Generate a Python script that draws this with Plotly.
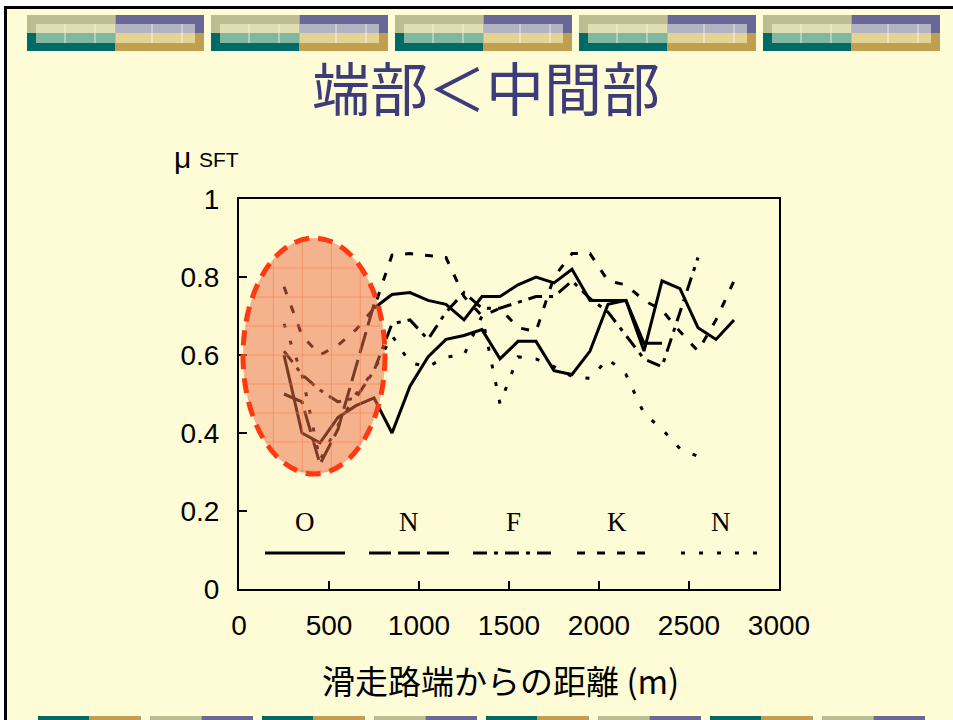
import math
import plotly.graph_objects as go

# ---------------- data ----------------
dist_O1 = [250, 350, 450, 550, 650, 750, 850, 950, 1050, 1150, 1250, 1350, 1450, 1550,
           1650, 1750, 1850, 1950, 2050, 2150, 2250, 2350]
mu_O1 = [0.60, 0.40, 0.375, 0.44, 0.47, 0.49, 0.40, 0.52, 0.595, 0.64, 0.65, 0.665, 0.59,
         0.635, 0.635, 0.56, 0.55, 0.61, 0.73, 0.74, 0.63, 0.63]

dist_O2 = [750, 850, 950, 1050, 1150, 1250, 1350, 1450, 1550, 1650, 1750, 1850, 1950, 2050,
           2150, 2250, 2350, 2450, 2550, 2650, 2750]
mu_O2 = [0.72, 0.755, 0.76, 0.74, 0.73, 0.69, 0.75, 0.75, 0.78, 0.80, 0.785, 0.82, 0.74, 0.74,
         0.74, 0.61, 0.79, 0.77, 0.67, 0.64, 0.69]

dist_N1 = [250, 350, 450, 550, 650, 750]
mu_N1 = [0.50, 0.48, 0.32, 0.41, 0.57, 0.73]

dist_F = [250, 350, 450, 550, 650, 750, 850, 950, 1050, 1150, 1250, 1350, 1450, 1550, 1650,
          1750, 1850, 1950, 2050, 2150, 2250, 2350, 2450, 2550]
mu_F = [0.61, 0.55, 0.51, 0.48, 0.49, 0.56, 0.68, 0.69, 0.64, 0.71, 0.76, 0.72, 0.72, 0.735,
        0.75, 0.75, 0.79, 0.745, 0.71, 0.65, 0.59, 0.57, 0.71, 0.85]

dist_K = [250, 350, 450, 550, 650, 750, 850, 950, 1050, 1150, 1250, 1350, 1450, 1550, 1650,
          1750, 1850, 1950, 2050, 2150, 2250, 2350, 2450, 2550, 2650, 2750]
mu_K = [0.775, 0.65, 0.60, 0.625, 0.665, 0.72, 0.856, 0.86, 0.855, 0.85, 0.75, 0.70, 0.72,
        0.67, 0.66, 0.80, 0.86, 0.86, 0.79, 0.78, 0.74, 0.715, 0.66, 0.61, 0.69, 0.79]

dist_N2 = [250, 350, 450, 550, 650, 750, 850, 950, 1050, 1150, 1250, 1350, 1450, 1550, 1650,
           1750, 1850, 1950, 2050, 2150, 2250, 2350, 2450, 2550]
mu_N2 = [0.68, 0.55, 0.33, 0.42, 0.50, 0.56, 0.65, 0.58, 0.57, 0.595, 0.60, 0.70, 0.475, 0.595,
         0.59, 0.57, 0.545, 0.54, 0.59, 0.55, 0.45, 0.41, 0.36, 0.34]

legend_labels = ["O", "N", "F", "K", "N"]

x_ticks = [0, 500, 1000, 1500, 2000, 2500, 3000]
y_ticks = [0, 0.2, 0.4, 0.6, 0.8, 1.0]
y_ticktext = ["0", "0.2", "0.4", "0.6", "0.8", "1"]

title_text = "端部＜中間部"
x_title = "滑走路端からの距離 (m)"
y_title = "μ"
y_title_sub = "SFT"

# ---------------- layout / style ----------------
W, H = 953, 720
L, R, T, B = 239, 779, 199, 589          # plot area in pixels
BG = "#FDFCD6"
NUM_FONT = "Liberation Sans, Arial, sans-serif"
JP_FONT = "Noto Sans CJK JP, sans-serif"

DASH = {
    "solid": "solid",
    "long": "22px,7px",
    "dashdot": "14px,7px,4px,7px",
    "short": "8px,12px",
    "dot": "4px,14px",
}

series = [
    (dist_O1, mu_O1, "solid"),
    (dist_O2, mu_O2, "solid"),
    (dist_N1, mu_N1, "long"),
    (dist_F, mu_F, "dashdot"),
    (dist_K, mu_K, "short"),
    (dist_N2, mu_N2, "dot"),
]
legend_styles = ["solid", "long", "dashdot", "short", "dot"]


def pxx(x):
    return (x - L) / (R - L)


def pxy(y):
    return (B - y) / (B - T)


fig = go.Figure()
for xs, ys, st in series:
    fig.add_trace(go.Scatter(x=xs, y=ys, mode="lines",
                             line=dict(color="black", width=3, dash=DASH[st]),
                             showlegend=False, hoverinfo="skip"))

shapes = []
# slide background with black frame
shapes.append(dict(type="rect", xref="paper", yref="paper",
                   x0=pxx(5.5), x1=pxx(975), y0=pxy(7.5), y1=pxy(740),
                   fillcolor=BG, line=dict(color="black", width=3), layer="below"))

# top decorative banner
for i in range(5):
    x0 = 27 + 184 * i
    xm = x0 + 88.5
    x1 = x0 + 177
    for (a, b, c, d, col) in [(x0, xm, 15, 33, "#BCBD92"), (xm, x1, 15, 33, "#686898"),
                              (x0, xm, 33, 51, "#006A66"), (xm, x1, 33, 51, "#C0A050")]:
        shapes.append(dict(type="rect", xref="paper", yref="paper",
                           x0=pxx(a), x1=pxx(b), y0=pxy(d), y1=pxy(c),
                           fillcolor=col, line=dict(width=0), layer="below"))
    for (a, b, c, d, col) in [(x0 + 9, xm, 24, 33, "#DEDEB4"), (xm, x1 - 9, 24, 33, "#B2B2C2"),
                              (x0 + 9, xm, 33, 43, "#7FB7A0"), (xm, x1 - 9, 33, 43, "#E4D394")]:
        shapes.append(dict(type="rect", xref="paper", yref="paper",
                           x0=pxx(a), x1=pxx(b), y0=pxy(d), y1=pxy(c),
                           fillcolor=col, line=dict(width=0), layer="below"))
    for off in (38, 68, 125, 155):
        shapes.append(dict(type="line", xref="paper", yref="paper",
                           x0=pxx(x0 + off), x1=pxx(x0 + off), y0=pxy(43), y1=pxy(24),
                           line=dict(color="rgba(255,255,235,0.75)", width=1), layer="below"))

# bottom decorative banner
for i in range(8):
    x0 = 38 + 112 * i
    xm = x0 + 51.5
    x1 = x0 + 103
    ca, cb = ("#006A66", "#C0A050") if i % 2 == 0 else ("#BCBD92", "#686898")
    shapes.append(dict(type="rect", xref="paper", yref="paper", x0=pxx(x0), x1=pxx(xm),
                       y0=pxy(730), y1=pxy(716), fillcolor=ca, line=dict(width=0), layer="below"))
    shapes.append(dict(type="rect", xref="paper", yref="paper", x0=pxx(xm), x1=pxx(x1),
                       y0=pxy(730), y1=pxy(716), fillcolor=cb, line=dict(width=0), layer="below"))

# highlight ellipse (pixel geometry)
ECX, ECY, ERX, ERY = 314, 356, 71, 118
shapes.append(dict(type="circle", xref="paper", yref="paper",
                   x0=pxx(ECX - ERX), x1=pxx(ECX + ERX), y0=pxy(ECY + ERY), y1=pxy(ECY - ERY),
                   fillcolor="rgba(236,112,72,0.52)", line=dict(width=0), layer="above"))
# grid texture inside ellipse
GRID = 29
gx = 244.3 + GRID
while gx < ECX + ERX - 2:
    t = 1 - ((gx - ECX) / ERX) ** 2
    if t > 0:
        h = ERY * math.sqrt(t)
        shapes.append(dict(type="line", xref="paper", yref="paper",
                           x0=pxx(gx), x1=pxx(gx), y0=pxy(ECY + h), y1=pxy(ECY - h),
                           line=dict(color="rgba(250,120,80,0.55)", width=1), layer="above"))
    gx += GRID
gy = 268
while gy < ECY + ERY - 2:
    t = 1 - ((gy - ECY) / ERY) ** 2
    if t > 0:
        w = ERX * math.sqrt(t)
        shapes.append(dict(type="line", xref="paper", yref="paper",
                           x0=pxx(ECX - w), x1=pxx(ECX + w), y0=pxy(gy), y1=pxy(gy),
                           line=dict(color="rgba(250,120,80,0.55)", width=1), layer="above"))
    gy += GRID
shapes.append(dict(type="circle", xref="paper", yref="paper",
                   x0=pxx(ECX - ERX), x1=pxx(ECX + ERX), y0=pxy(ECY + ERY), y1=pxy(ECY - ERY),
                   fillcolor="rgba(0,0,0,0)", line=dict(color="#FF3A12", width=5, dash="15px,9px"),
                   layer="above"))

# in-plot legend
annotations = []
for i, (lab, st) in enumerate(zip(legend_labels, legend_styles)):
    cx = 305 + 104 * i
    annotations.append(dict(text=lab, xref="paper", yref="paper", x=pxx(cx), y=pxy(522),
                            xanchor="center", yanchor="middle", showarrow=False,
                            font=dict(family="Liberation Serif, Times New Roman, serif",
                                      size=27, color="black")))
    shapes.append(dict(type="line", xref="paper", yref="paper",
                       x0=pxx(cx - 40), x1=pxx(cx + 40), y0=pxy(553), y1=pxy(553),
                       line=dict(color="black", width=3, dash=DASH[st]), layer="above"))

annotations.append(dict(text=title_text, xref="paper", yref="paper", x=pxx(486), y=pxy(86),
                        xanchor="center", yanchor="middle", showarrow=False,
                        font=dict(family=JP_FONT, size=58, color="#3C3C7A")))
annotations.append(dict(text=x_title, xref="paper", yref="paper", x=pxx(500), y=pxy(680),
                        xanchor="center", yanchor="middle", showarrow=False,
                        font=dict(family=JP_FONT, size=33, color="black")))
annotations.append(dict(text=y_title, xref="paper", yref="paper", x=pxx(172), y=pxy(158),
                        xanchor="left", yanchor="middle", showarrow=False,
                        font=dict(family=NUM_FONT, size=30, color="black")))
annotations.append(dict(text=y_title_sub, xref="paper", yref="paper", x=pxx(197), y=pxy(160),
                        xanchor="left", yanchor="middle", showarrow=False,
                        font=dict(family=NUM_FONT, size=21, color="black")))

axis_common = dict(showline=True, linecolor="black", linewidth=2, mirror=True,
                   ticks="inside", ticklen=8, tickwidth=1.5, tickcolor="black",
                   showgrid=False, zeroline=False,
                   tickfont=dict(family=NUM_FONT, size=28, color="black"))

fig.update_layout(
    width=W, height=H,
    margin=dict(l=L, r=W - R, t=T, b=H - B, pad=0),
    paper_bgcolor="white", plot_bgcolor="rgba(0,0,0,0)",
    xaxis=dict(range=[0, 3000], tickvals=x_ticks, ticklabelstandoff=10, **axis_common),
    yaxis=dict(range=[0, 1], tickvals=y_ticks, ticktext=y_ticktext, ticklabelstandoff=12,
               **axis_common),
    shapes=shapes, annotations=annotations, showlegend=False,
)

fig.write_html("out.html", config={"displayModeBar": False},
               post_script="document.body.style.margin='0';document.body.style.overflow='hidden';")
